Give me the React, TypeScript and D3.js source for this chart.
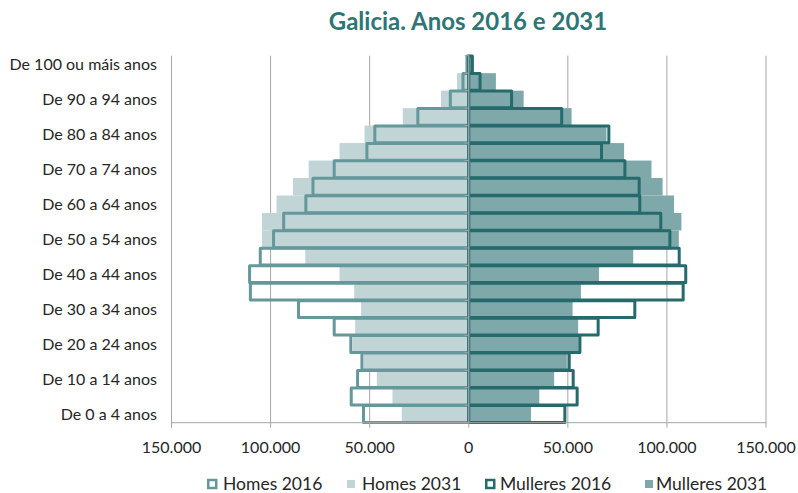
import React from "react";
import * as d3 from "d3";

const ageGroups = [
  "De 0 a 4 anos", "De 5 a 9 anos", "De 10 a 14 anos", "De 15 a 19 anos",
  "De 20 a 24 anos", "De 25 a 29 anos", "De 30 a 34 anos", "De 35 a 39 anos",
  "De 40 a 44 anos", "De 45 a 49 anos", "De 50 a 54 anos", "De 55 a 59 anos",
  "De 60 a 64 anos", "De 65 a 69 anos", "De 70 a 74 anos", "De 75 a 79 anos",
  "De 80 a 84 anos", "De 85 a 89 anos", "De 90 a 94 anos", "De 95 a 99 anos",
  "De 100 ou máis anos",
];

const homes2016 = [53100, 59300, 56100, 53900, 59500, 67900, 85900, 110200, 110600, 105200, 98500, 93400, 82200, 78600, 67900, 51400, 47400, 25700, 9300, 2900, 900];
const homes2031 = [33800, 38500, 46400, 53000, 58500, 57300, 54300, 57800, 65200, 82500, 104300, 104300, 97000, 88700, 80800, 65200, 52600, 33300, 14000, 5900, 800];
const mulleres2016 = [48500, 54700, 52700, 50700, 56100, 65300, 83800, 108200, 109500, 106200, 101500, 96900, 86300, 86000, 78800, 67000, 70700, 46900, 21600, 5700, 1800];
const mulleres2031 = [31400, 35600, 43100, 49500, 55500, 55200, 52400, 56600, 65700, 83000, 106000, 107300, 103600, 97800, 92200, 78400, 69500, 51900, 27700, 13700, 2500];

const xTicks = [-150000, -100000, -50000, 0, 50000, 100000, 150000];
const legendLabels = ["Homes 2016", "Homes 2031", "Mulleres 2016", "Mulleres 2031"];

const C_MEN_LINE = "#64989a";
const C_MEN_FILL = "#c1d5d6";
const C_WOM_LINE = "#256a6c";
const C_WOM_FILL = "#7ea8a9";
const C_GRID = "#a6a6a6";
const C_TEXT = "#262626";
const FONT = "Lato, 'Open Sans', sans-serif";

export default function App() {
  const W = 798, H = 493;
  const top = 55.7, bottom = 422.7;
  const x = d3.scaleLinear().domain([-150000, 150000]).range([171.5, 766]);
  const y = d3.scaleBand<string>().domain([...ageGroups].reverse()).range([top, bottom]).padding(0);
  const bw = y.bandwidth();
  const fmt = (v: number) => d3.format(",")(Math.abs(v)).replace(/,/g, ".");

  const rows = ageGroups.map((g, i) => ({ g, i }));

  const legendItems = [
    { label: legendLabels[0], type: "outline", color: C_MEN_LINE, sx: 207, tx: 223 },
    { label: legendLabels[1], type: "fill", color: C_MEN_FILL, sx: 347, tx: 362 },
    { label: legendLabels[2], type: "outline", color: C_WOM_LINE, sx: 485, tx: 500 },
    { label: legendLabels[3], type: "fill", color: C_WOM_FILL, sx: 645, tx: 656 },
  ];

  return (
    <svg width={W} height={H} style={{ position: "absolute", left: 0, top: 0, background: "#fff" }} fontFamily={FONT}>
      <text x={468} y={30} textAnchor="middle" fontSize={24} fontWeight="bold" fill="#2f7576">
        Galicia. Anos 2016 e 2031
      </text>

      {/* gridlines */}
      {xTicks.filter((t) => t !== 0).map((t) => (
        <line key={t} x1={x(t)} x2={x(t)} y1={top} y2={bottom} stroke={C_GRID} strokeWidth={1} />
      ))}

      {/* 2031 filled bars */}
      {rows.map(({ g, i }) => (
        <rect key={"h31" + g} x={x(-homes2031[i])} y={y(g)!} width={x(0) - x(-homes2031[i])} height={bw} fill={C_MEN_FILL} />
      ))}
      {rows.map(({ g, i }) => (
        <rect key={"m31" + g} x={x(0)} y={y(g)!} width={x(mulleres2031[i]) - x(0)} height={bw} fill={C_WOM_FILL} />
      ))}

      {/* 2016 outlined bars */}
      {rows.map(({ g, i }) => (
        <rect key={"h16" + g} x={x(-homes2016[i])} y={y(g)! + 0.3} width={x(0) - x(-homes2016[i])} height={bw - 0.6}
          fill="none" stroke={C_MEN_LINE} strokeWidth={3} strokeLinejoin="round" />
      ))}
      {rows.map(({ g, i }) => (
        <rect key={"m16" + g} x={x(0)} y={y(g)! + 0.3} width={x(mulleres2016[i]) - x(0)} height={bw - 0.6}
          fill="none" stroke={C_WOM_LINE} strokeWidth={3} strokeLinejoin="round" />
      ))}

      {/* category axis at 0 */}
      <line x1={x(0)} x2={x(0)} y1={top} y2={bottom} stroke={C_GRID} strokeWidth={1.2} />
      {d3.range(ageGroups.length + 1).map((k) => (
        <line key={"ct" + k} x1={x(0) - 4} x2={x(0)} y1={top + k * bw} y2={top + k * bw} stroke={C_GRID} strokeWidth={1} />
      ))}

      {/* bottom axis */}
      <line x1={x(-150000)} x2={x(150000)} y1={bottom} y2={bottom} stroke={C_GRID} strokeWidth={1} />
      {xTicks.map((t) => (
        <g key={"xt" + t}>
          <line x1={x(t)} x2={x(t)} y1={bottom} y2={bottom + 5} stroke={C_GRID} strokeWidth={1} />
          <text x={x(t)} y={453} textAnchor="middle" fontSize={16} fill={C_TEXT}>{fmt(t)}</text>
        </g>
      ))}

      {/* y labels */}
      {rows.filter(({ i }) => i % 2 === 0).map(({ g }) => (
        <text key={"yl" + g} x={157} y={y(g)! + bw / 2} dy="0.35em" textAnchor="end" fontSize={16} fill={C_TEXT}>{g}</text>
      ))}

      {/* legend */}
      {legendItems.map((it) => (
        <g key={it.label}>
          {it.type === "outline" ? (
            <rect x={it.sx + 1.25} y={480} width={8} height={8} fill="#fff" stroke={it.color} strokeWidth={2.5} />
          ) : (
            <rect x={it.sx} y={480} width={8} height={8} fill={it.color} />
          )}
          <text x={it.tx} y={484} dy="0.35em" fontSize={17.5} fill={C_TEXT}>{it.label}</text>
        </g>
      ))}
    </svg>
  );
}
